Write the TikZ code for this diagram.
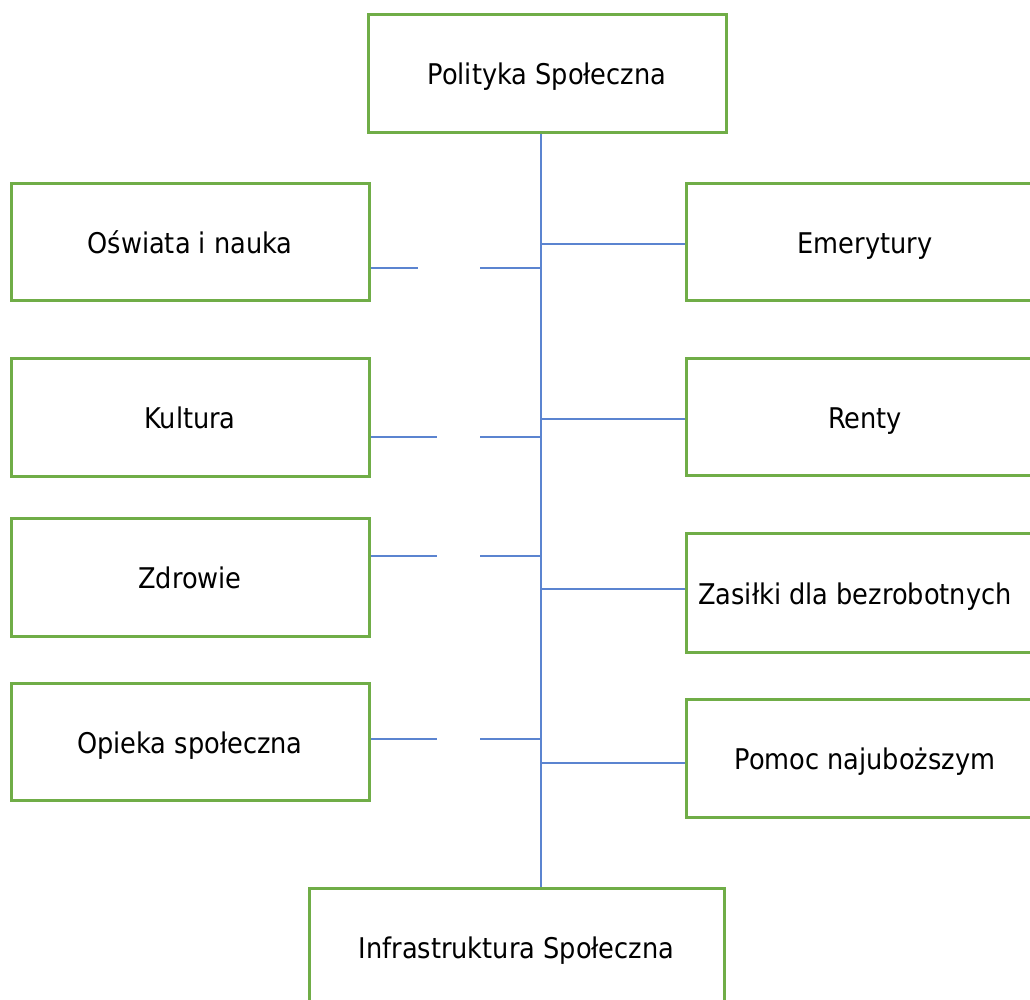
\documentclass[tikz,border=0pt]{standalone}
\usepackage{fontspec}
\setmainfont{DejaVu Sans Condensed}
\definecolor{boxgreen}{HTML}{70AD47}
\definecolor{linkblue}{HTML}{5B84D0}
\begin{document}
\begin{tikzpicture}[x=1pt,y=-1pt,
  box/.style={draw=boxgreen, line width=3pt, fill=white, rectangle,
    minimum width=358pt, minimum height=117pt, inner sep=0pt,
    text height=26pt, text depth=3pt,
    font=\fontsize{28.5}{33}\selectfont, text=black},
  link/.style={draw=linkblue, line width=1.4pt}]
\useasboundingbox (0,0) rectangle (1030,999);
\clip (0,0) rectangle (1030,999);

% top and bottom boxes
\node[box, minimum height=118pt] (top) at (547,73) {Polityka Społeczna};
\node[box, minimum width=415pt, minimum height=118pt] (bot) at (516.5,947) {Infrastruktura Społeczna};

% left column
\node[box] (osw) at (190,241.5) {Oświata i nauka};
\node[box, minimum height=118pt] (kul) at (190,417) {Kultura};
\node[box, minimum height=118pt] (zdr) at (190,577) {Zdrowie};
\node[box] (opi) at (190,741.5) {Opieka społeczna};

% right column
\node[box] (eme) at (865,241.5) {Emerytury};
\node[box] (ren) at (865,416.5) {Renty};
\node[box, minimum height=119pt] (zas) at (865,592.5) {\hspace*{-20pt}Zasiłki dla bezrobotnych};
\node[box, minimum height=118pt] (pom) at (865,758) {Pomoc najuboższym};

% trunk
\coordinate (trunk) at (541,0);
\draw[link] (top.south -| trunk) -- (bot.north -| trunk);

% left branches, each broken by a gap
\coordinate (o1) at (418,268); \coordinate (o2) at (480,268);
\coordinate (k1) at (437,437); \coordinate (k2) at (480,437);
\coordinate (z1) at (437,556); \coordinate (z2) at (480,556);
\coordinate (p1) at (437,739); \coordinate (p2) at (480,739);
\draw[link] (osw.east |- o1) -- (o1);  \draw[link] (o2) -- (trunk |- o2);
\draw[link] (kul.east |- k1) -- (k1);  \draw[link] (k2) -- (trunk |- k2);
\draw[link] (zdr.east |- z1) -- (z1);  \draw[link] (z2) -- (trunk |- z2);
\draw[link] (opi.east |- p1) -- (p1);  \draw[link] (p2) -- (trunk |- p2);

% right branches
\coordinate (re) at (0,244);
\coordinate (rr) at (0,419);
\coordinate (rz) at (0,589);
\coordinate (rp) at (0,763);
\draw[link] (trunk |- re) -- (eme.west |- re);
\draw[link] (trunk |- rr) -- (ren.west |- rr);
\draw[link] (trunk |- rz) -- (zas.west |- rz);
\draw[link] (trunk |- rp) -- (pom.west |- rp);
\end{tikzpicture}
\end{document}
